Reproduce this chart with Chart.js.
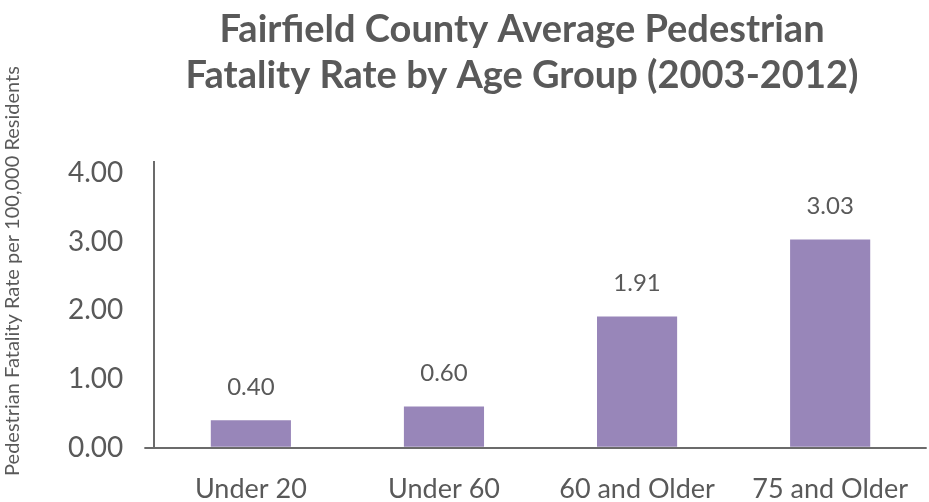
<!DOCTYPE html>
<html>
<head>
<meta charset="utf-8">
<script src="https://cdn.jsdelivr.net/npm/chart.js@4.4.0/dist/chart.umd.min.js"></script>
<style>
  html, body { margin: 0; padding: 0; background: #ffffff; }
  #wrap { width: 929px; height: 502px; position: relative; }
</style>
</head>
<body>
<div id="wrap"><canvas id="fatalityChart"></canvas></div>
<script>
const ageGroups = ["Under 20", "Under 60", "60 and Older", "75 and Older"];
const fatalityRates = [0.40, 0.60, 1.91, 3.03];
const yTickValues = [0, 1, 2, 3, 4];
const titleLines = ["Fairfield County Average Pedestrian", "Fatality Rate by Age Group (2003-2012)"];
const yAxisTitle = "Pedestrian Fatality Rate per 100,000 Residents";

const textGray = "#595959";
const axisGray = "#6b6b6b";
const barPurple = "#9886b9";

// draws the value over each bar
const valueLabels = {
    id: "valueLabels",
    afterDatasetsDraw(chart) {
        const c = chart.ctx;
        const meta = chart.getDatasetMeta(0);
        c.save();
        c.font = "24px Lato";
        c.fillStyle = textGray;
        c.textAlign = "center";
        c.textBaseline = "middle";
        meta.data.forEach(function (bar, i) {
            c.fillText(fatalityRates[i].toFixed(2), bar.x, bar.y - 33);
        });
        c.restore();
    }
};

// title and y axis title, placed like the original (not centred on the canvas)
const titles = {
    id: "titles",
    afterDraw(chart) {
        const c = chart.ctx;
        c.save();
        c.fillStyle = textGray;
        c.textAlign = "center";
        c.textBaseline = "alphabetic";
        c.font = "bold 38px Lato";
        c.fillText(titleLines[0], 522, 42);
        c.fillText(titleLines[1], 522, 88);

        c.translate(13, 271);
        c.rotate(-Math.PI / 2);
        c.textBaseline = "middle";
        c.font = "20px Lato";
        c.fillText(yAxisTitle, 0, 0);
        c.restore();
    }
};

document.addEventListener("DOMContentLoaded", function () {

    const ctx = document.getElementById("fatalityChart");

    new Chart(ctx, {
        type: "bar",
        data: {
            labels: ageGroups,
            datasets: [
                {
                    data: fatalityRates,
                    backgroundColor: barPurple,
                    barPercentage: 0.415,
                    categoryPercentage: 1.0
                }
            ]
        },
        options: {
            responsive: true,
            maintainAspectRatio: false,
            animation: false,
            layout: { padding: { top: 162, right: -18, bottom: -20, left: 47 } },
            plugins: {
                legend: { display: false },
                tooltip: { enabled: false },
                title: { display: false }
            },
            scales: {
                x: {
                    grid: { display: false },
                    border: { display: false },
                    ticks: {
                        color: textGray,
                        font: { family: "Lato", size: 27, lineHeight: 0.9 },
                        padding: 21,
                        maxRotation: 0
                    }
                },
                y: {
                    min: 0,
                    max: 4.16,
                    afterBuildTicks: function (axis) {
                        axis.ticks = yTickValues.map(function (v) { return { value: v }; });
                    },
                    border: { display: true, color: axisGray, width: 2 },
                    grid: {
                        drawOnChartArea: true,
                        drawTicks: true,
                        tickLength: 10,
                        lineWidth: 2,
                        color: function (c) {
                            return c.tick && c.tick.value === 0 ? axisGray : "rgba(0,0,0,0)";
                        }
                    },
                    ticks: {
                        color: textGray,
                        font: { family: "Lato", size: 28 },
                        padding: 21,
                        callback: function (v) { return Number(v).toFixed(2); }
                    }
                }
            }
        },
        plugins: [valueLabels, titles]
    });
});
</script>
</body>
</html>
